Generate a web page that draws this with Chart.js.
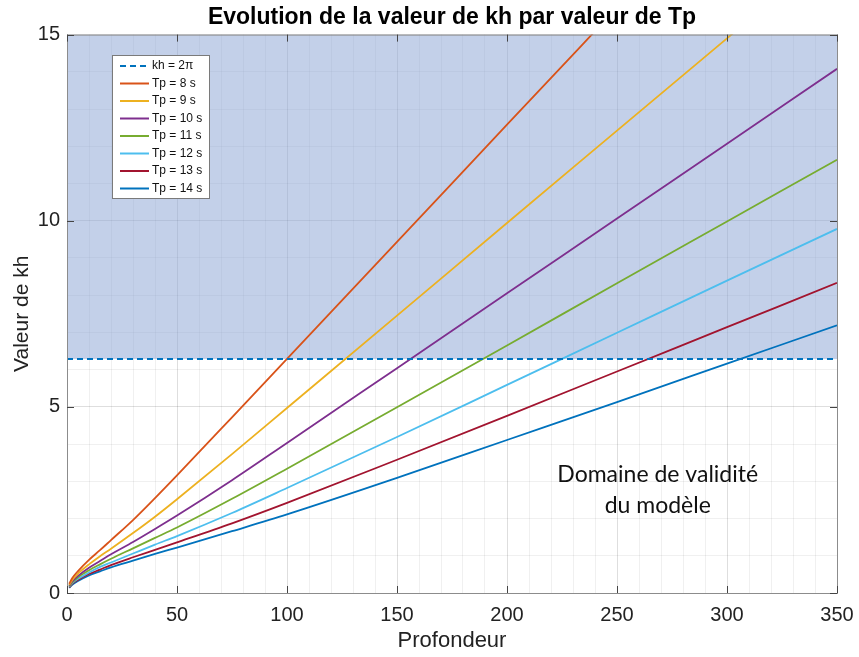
<!DOCTYPE html>
<html>
<head>
<meta charset="utf-8">
<script src="https://cdn.jsdelivr.net/npm/chart.js@4.4.1/dist/chart.umd.min.js"></script>
<style>
  html, body { margin: 0; padding: 0; background: #fff; }
  #wrap { width: 859px; height: 657px; }
</style>
</head>
<body>
<div id="wrap"><canvas id="khChart" width="859" height="657"></canvas></div>
<script>
// profondeur (x) et kh
const depth = [1, 2.5, 5, 10, 15, 20, 30, 40, 50, 75, 100, 150, 200, 250, 300, 350];
const tp8  = [0.25, 0.41, 0.59, 0.89, 1.15, 1.42, 1.96, 2.55, 3.16, 4.72, 6.29, 9.43, 12.58, 15.72, 18.86, 22.01];
const tp9  = [0.22, 0.36, 0.52, 0.77, 0.99, 1.19, 1.61, 2.05, 2.52, 3.73, 4.97, 7.45, 9.94, 12.42, 14.90, 17.39];
const tp10 = [0.20, 0.32, 0.46, 0.68, 0.86, 1.04, 1.37, 1.72, 2.08, 3.03, 4.03, 6.04, 8.05, 10.06, 12.07, 14.08];
const tp11 = [0.18, 0.29, 0.42, 0.61, 0.77, 0.92, 1.20, 1.48, 1.76, 2.53, 3.34, 4.99, 6.65, 8.32, 9.98, 11.64];
const tp12 = [0.17, 0.27, 0.38, 0.55, 0.70, 0.82, 1.06, 1.30, 1.53, 2.15, 2.82, 4.19, 5.59, 6.99, 8.39, 9.78];
const tp13 = [0.15, 0.25, 0.35, 0.51, 0.63, 0.75, 0.96, 1.16, 1.36, 1.87, 2.42, 3.58, 4.76, 5.95, 7.14, 8.33];
const tp14 = [0.14, 0.23, 0.32, 0.47, 0.58, 0.69, 0.87, 1.05, 1.22, 1.66, 2.11, 3.09, 4.11, 5.13, 6.16, 7.19];

const limitX = [0, 350];
const limitKh = [6.2832, 6.2832];

const xTicks = [0, 50, 100, 150, 200, 250, 300, 350];
const yTicks = [0, 5, 10, 15];

const toPoints = (xs, ys) => xs.map((x, i) => ({ x: x, y: ys[i] }));

const curve = (label, values, color) => ({
    label: label,
    data: toPoints(depth, values),
    borderColor: color,
    backgroundColor: color,
    borderWidth: 1.8,
    pointRadius: 0,
    cubicInterpolationMode: 'monotone',
    fill: false,
    order: 2,
});

// cadre du graphe (box on)
const boxPlugin = {
    id: 'box',
    afterDraw(chart) {
        const { ctx, chartArea: a } = chart;
        ctx.save();
        ctx.strokeStyle = '#8c8c8c';
        ctx.lineWidth = 1;
        ctx.strokeRect(a.left + 0.5, a.top + 0.5, a.right - a.left, a.bottom - a.top);
        // petites graduations intérieures
        ctx.strokeStyle = '#444';
        const xs = chart.scales.x, ys = chart.scales.y;
        xTicks.forEach(v => {
            const px = Math.round(xs.getPixelForValue(v)) + 0.5;
            ctx.beginPath();
            ctx.moveTo(px, a.bottom); ctx.lineTo(px, a.bottom - 7);
            ctx.moveTo(px, a.top); ctx.lineTo(px, a.top + 7);
            ctx.stroke();
        });
        yTicks.forEach(v => {
            const py = Math.round(ys.getPixelForValue(v)) + 0.5;
            ctx.beginPath();
            ctx.moveTo(a.left, py); ctx.lineTo(a.left + 7, py);
            ctx.moveTo(a.right, py); ctx.lineTo(a.right - 7, py);
            ctx.stroke();
        });
        ctx.restore();
    }
};

// légende dans la zone du graphe, en haut à gauche
const insideLegend = {
    id: 'insideLegend',
    afterDraw(chart) {
        const { ctx } = chart;
        const x0 = 112, y0 = 55, w = 97, rowH = 17.5;
        const sets = chart.data.datasets;
        ctx.save();
        ctx.fillStyle = '#ffffff';
        ctx.fillRect(x0, y0, w, rowH * sets.length + 3);
        ctx.strokeStyle = '#7a7a7a';
        ctx.lineWidth = 1;
        ctx.strokeRect(x0 + 0.5, y0 + 0.5, w, rowH * sets.length + 3);
        ctx.font = '12px "Liberation Sans", Arial, sans-serif';
        ctx.textBaseline = 'middle';
        sets.forEach((ds, i) => {
            const y = y0 + 11 + i * rowH;
            ctx.strokeStyle = ds.borderColor;
            ctx.lineWidth = 2;
            ctx.setLineDash(ds.borderDash || []);
            ctx.beginPath();
            ctx.moveTo(x0 + 8, y);
            ctx.lineTo(x0 + 37, y);
            ctx.stroke();
            ctx.setLineDash([]);
            ctx.fillStyle = '#111';
            ctx.fillText(ds.label, x0 + 40, y);
        });
        ctx.restore();
    }
};

// texte annoté
const notePlugin = {
    id: 'note',
    afterDraw(chart) {
        const { ctx } = chart;
        const xs = chart.scales.x, ys = chart.scales.y;
        ctx.save();
        ctx.font = '23px Lato, "Open Sans", sans-serif';
        ctx.fillStyle = '#111';
        ctx.textAlign = 'center';
        ctx.textBaseline = 'middle';
        ctx.fillText('Domaine de validité', xs.getPixelForValue(268.5), ys.getPixelForValue(3.17));
        ctx.fillText('du modèle', xs.getPixelForValue(268.5), ys.getPixelForValue(2.35));
        ctx.restore();
    }
};

const ctx = document.getElementById('khChart').getContext('2d');
new Chart(ctx, {
    type: 'line',
    data: {
        datasets: [
            {
                label: 'kh = 2π',
                data: toPoints(limitX, limitKh),
                borderColor: '#0072BD',
                backgroundColor: 'rgba(140, 165, 212, 0.52)',
                borderWidth: 2,
                borderDash: [6, 4],
                pointRadius: 0,
                fill: 'end',
                order: 1,
            },
            curve('Tp = 8 s', tp8, '#D95319'),
            curve('Tp = 9 s', tp9, '#EDB120'),
            curve('Tp = 10 s', tp10, '#7E2F8E'),
            curve('Tp = 11 s', tp11, '#77AC30'),
            curve('Tp = 12 s', tp12, '#4DBEEE'),
            curve('Tp = 13 s', tp13, '#A2142F'),
            curve('Tp = 14 s', tp14, '#0072BD'),
        ],
    },
    options: {
        responsive: false,
        animation: false,
        layout: { padding: { left: 0, right: 22, top: 0, bottom: 0 } },
        plugins: {
            legend: { display: false },
            tooltip: { enabled: false },
            filler: { drawTime: 'beforeDatasetsDraw' },
            title: {
                display: true,
                fullSize: false,
                text: 'Evolution de la valeur de kh par valeur de Tp',
                color: '#000',
                font: { family: '"Liberation Sans", Arial, sans-serif', size: 23, weight: 'bold' },
                padding: { top: 4, bottom: 3 },
            },
        },
        scales: {
            x: {
                type: 'linear',
                min: 0,
                max: 350,
                afterFit(scale) {
                    scale.height = 64;
                    scale.paddingLeft = 0;
                    scale.paddingRight = 0;
                },
                ticks: {
                    stepSize: 10,
                    autoSkip: false,
                    maxRotation: 0,
                    padding: 10,
                    color: '#222',
                    font: { family: '"Liberation Sans", Arial, sans-serif', size: 20 },
                    callback: v => (xTicks.includes(v) ? String(v) : ''),
                },
                grid: {
                    drawTicks: false,
                    color: c => (xTicks.includes(c.tick.value) ? 'rgba(0,0,0,0.13)' : 'rgba(0,0,0,0.06)'),
                },
                border: { display: false },
                title: {
                    display: true,
                    text: 'Profondeur',
                    color: '#222',
                    font: { family: '"Liberation Sans", Arial, sans-serif', size: 22 },
                    padding: { top: 0, bottom: 3 },
                },
            },
            y: {
                min: 0,
                max: 15,
                afterFit(scale) { scale.width = 67; },
                ticks: {
                    stepSize: 1,
                    autoSkip: false,
                    padding: 7,
                    color: '#222',
                    font: { family: '"Liberation Sans", Arial, sans-serif', size: 20 },
                    callback: v => (yTicks.includes(v) ? String(v) : ''),
                },
                grid: {
                    drawTicks: false,
                    color: c => (yTicks.includes(c.tick.value) ? 'rgba(0,0,0,0.13)' : 'rgba(0,0,0,0.06)'),
                },
                border: { display: false },
                title: {
                    display: true,
                    text: 'Valeur de kh',
                    color: '#222',
                    font: { family: '"Liberation Sans", Arial, sans-serif', size: 21 },
                    padding: { top: 10, bottom: 0 },
                },
            },
        },
    },
    plugins: [boxPlugin, insideLegend, notePlugin],
});
</script>
</body>
</html>
